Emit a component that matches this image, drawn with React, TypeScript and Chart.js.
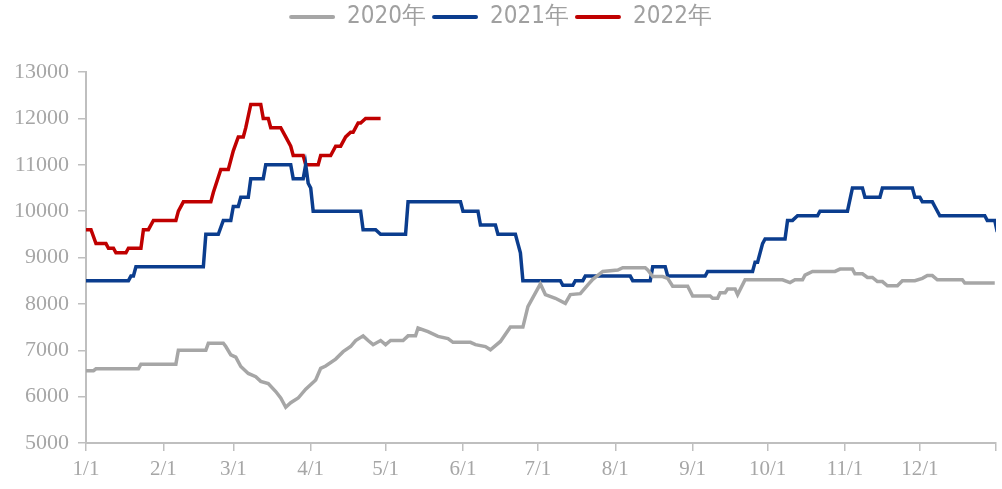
import React, { useEffect, useRef } from "react";
import { Chart, registerables } from "chart.js";

Chart.register(...registerables);

// Legend names
const seriesNames = ["2020年", "2021年", "2022年"];
const seriesColors = ["#a6a6a6", "#0b3d8e", "#c00000"];

// X axis: day-of-year positions of month starts and their labels
const monthStartDays = [0, 31, 59, 90, 120, 151, 181, 212, 243, 273, 304, 334];
const monthLabels = ["1/1", "2/1", "3/1", "4/1", "5/1", "6/1", "7/1", "8/1", "9/1", "10/1", "11/1", "12/1"];
const xEnd = 364.5;

// Y axis range
const yMin = 5000;
const yMax = 13000;
const yStep = 1000;

// 2020 series (day of year, price)
const days2020 = [
  0, 3, 4, 21, 22, 36, 37, 48, 49, 55,
  56, 58, 60, 62, 65, 68, 70, 73, 76, 78,
  80, 82, 85, 88, 92, 94, 96, 100, 103, 106,
  108, 111, 113, 115, 118, 120, 122, 127, 129, 132,
  133, 137, 141, 145, 147, 154, 156, 160, 162, 166,
  170, 175, 177, 182, 184, 188, 192, 194, 198, 201,
  203, 207, 213, 215, 224, 225, 227, 231, 233, 235,
  241, 243, 250, 251, 253, 254, 256, 257, 260, 261,
  264, 279, 282, 284, 287, 288, 291, 300, 302, 307,
  308, 311, 313, 315, 317, 319, 321, 325, 327, 332,
  335, 337, 339, 341, 351, 352, 364,
];
const values2020 = [
  6560, 6560, 6600, 6600, 6700, 6700, 7000, 7000, 7150, 7150,
  7080, 6900, 6850, 6650, 6500, 6430, 6330, 6280, 6110, 5970,
  5770, 5870, 5970, 6160, 6360, 6610, 6660, 6810, 6970, 7080,
  7210, 7310, 7210, 7120, 7210, 7120, 7210, 7210, 7310, 7310,
  7480, 7400, 7300, 7250, 7170, 7170, 7120, 7080, 7010, 7190,
  7500, 7500, 7940, 8430, 8200, 8120, 8010, 8200, 8220, 8410,
  8530, 8700, 8730, 8780, 8780, 8730, 8590, 8590, 8550, 8380,
  8380, 8170, 8170, 8120, 8120, 8240, 8240, 8320, 8320, 8200,
  8520, 8520, 8460, 8520, 8520, 8620, 8700, 8700, 8750, 8750,
  8650, 8650, 8570, 8570, 8480, 8480, 8390, 8390, 8500, 8500,
  8550, 8610, 8610, 8520, 8520, 8450, 8450,
];

// 2021 series
const days2021 = [
  0, 17, 18, 19, 20, 47, 48, 53, 55, 58,
  59, 61, 62, 65, 66, 71, 72, 82, 83, 87,
  88, 89, 90, 91, 110, 111, 116, 118, 128, 129,
  150, 151, 157, 158, 164, 165, 172, 173, 174, 175,
  190, 191, 195, 196, 199, 200, 218, 219, 226, 227,
  232, 233, 248, 249, 267, 268, 269, 271, 272, 280,
  281, 283, 285, 293, 294, 305, 307, 311, 312, 318,
  319, 331, 332, 334, 335, 339, 340, 342, 360, 361,
  364, 365,
];
const values2021 = [
  8500, 8500, 8600, 8600, 8800, 8800, 9500, 9500, 9800, 9800,
  10100, 10100, 10300, 10300, 10700, 10700, 11000, 11000, 10700, 10700,
  11000, 10600, 10500, 10000, 10000, 9600, 9600, 9500, 9500, 10200,
  10200, 10000, 10000, 9700, 9700, 9500, 9500, 9300, 9100, 8500,
  8500, 8400, 8400, 8500, 8500, 8600, 8600, 8500, 8500, 8800,
  8800, 8600, 8600, 8700, 8700, 8900, 8900, 9300, 9400, 9400,
  9800, 9800, 9900, 9900, 10000, 10000, 10500, 10500, 10300, 10300,
  10500, 10500, 10300, 10300, 10200, 10200, 10100, 9900, 9900, 9800,
  9800, 9550,
];

// 2022 series
const days2022 = [
  0, 2, 4, 8, 9, 11, 12, 16, 17, 22,
  23, 25, 27, 36, 37, 39, 50, 51, 54, 57,
  59, 61, 63, 64, 66, 70, 71, 73, 74, 78,
  80, 82, 83, 87, 88, 93, 94, 98, 100, 102,
  104, 106, 107, 109, 110, 112, 118,
];
const values2022 = [
  9600, 9600, 9300, 9300, 9200, 9200, 9100, 9100, 9200, 9200,
  9600, 9600, 9800, 9800, 10000, 10200, 10200, 10400, 10900, 10900,
  11300, 11600, 11600, 11800, 12300, 12300, 12000, 12000, 11800, 11800,
  11600, 11400, 11200, 11200, 11000, 11000, 11200, 11200, 11400, 11400,
  11600, 11700, 11700, 11900, 11900, 12000, 12000,
];

const allDays = [days2020, days2021, days2022];
const allValues = [values2020, values2021, values2022];

const axisColor = "#bfbfbf";
const tickTextColor = "#a6a6a6";
const serifFamily = "'Liberation Serif', 'Times New Roman', serif";
const narrowFamily = "'Liberation Sans Narrow', 'Arial Narrow', 'DejaVu Sans Condensed', sans-serif";

const legendSpacer = {
  id: "legendSpacer",
  beforeInit(chart: any) {
    const legend = chart.legend;
    if (!legend) return;
    const orig = legend.fit;
    legend.fit = function () {
      orig.call(this);
      this.height += 33;
    };
  },
};

export default function App() {
  const canvasRef = useRef<HTMLCanvasElement | null>(null);

  useEffect(() => {
    const canvas = canvasRef.current;
    if (!canvas) return;
    const datasets = seriesNames.map((name, i) => ({
      label: name,
      data: allDays[i].map((d, j) => ({ x: d, y: allValues[i][j] })),
      borderColor: seriesColors[i],
      backgroundColor: seriesColors[i],
      borderWidth: 3.5,
      pointRadius: 0,
      pointHoverRadius: 0,
      tension: 0,
      fill: false,
    }));

    const chart = new Chart(canvas, {
      type: "line",
      data: { datasets },
      plugins: [legendSpacer],
      options: {
        animation: false,
        responsive: false,
        events: [],
        layout: { padding: { top: -1, right: 1, left: 0, bottom: 0 } },
        plugins: {
          tooltip: { enabled: false },
          legend: {
            display: true,
            position: "top",
            align: "center",
            labels: {
              boxWidth: 46,
              boxHeight: 4,
              padding: 6,
              color: "#a0a0a0",
              font: { family: narrowFamily, size: 24 },
              generateLabels: (c: any) =>
                Chart.defaults.plugins.legend.labels
                  .generateLabels(c)
                  .map((l: any) => ({ ...l, lineWidth: 0, borderRadius: 2 })),
            },
          },
        },
        scales: {
          x: {
            type: "linear",
            min: 0,
            max: xEnd,
            afterBuildTicks: (scale: any) => {
              scale.ticks = [...monthStartDays, xEnd].map((v) => ({ value: v }));
            },
            afterFit: (scale: any) => {
              scale.height = 46;
            },
            ticks: {
              autoSkip: false,
              maxRotation: 0,
              minRotation: 0,
              padding: 6,
              color: tickTextColor,
              font: { family: serifFamily, size: 21 },
              callback: (value: any) => {
                const idx = monthStartDays.indexOf(Number(value));
                return idx >= 0 ? monthLabels[idx] : "";
              },
            },
            grid: {
              drawOnChartArea: false,
              drawTicks: true,
              tickLength: 8,
              color: axisColor,
              lineWidth: 1.5,
            },
            border: { color: axisColor, width: 2 },
          },
          y: {
            type: "linear",
            min: yMin,
            max: yMax,
            afterFit: (scale: any) => {
              scale.width = 86;
            },
            ticks: {
              stepSize: yStep,
              padding: 9,
              color: tickTextColor,
              font: { family: serifFamily, size: 22 },
              callback: (value: any) => String(value),
            },
            grid: {
              drawOnChartArea: false,
              drawTicks: true,
              tickLength: 8,
              color: axisColor,
              lineWidth: 1.5,
            },
            border: { color: axisColor, width: 2 },
          },
        },
      },
    } as any);

    return () => {
      chart.destroy();
    };
  }, []);

  return (
    <div style={{ position: "absolute", left: 0, top: 0, width: 1002, height: 489, background: "#ffffff" }}>
      <canvas ref={canvasRef} width={1002} height={489} style={{ display: "block", width: 1002, height: 489 }} />
    </div>
  );
}
